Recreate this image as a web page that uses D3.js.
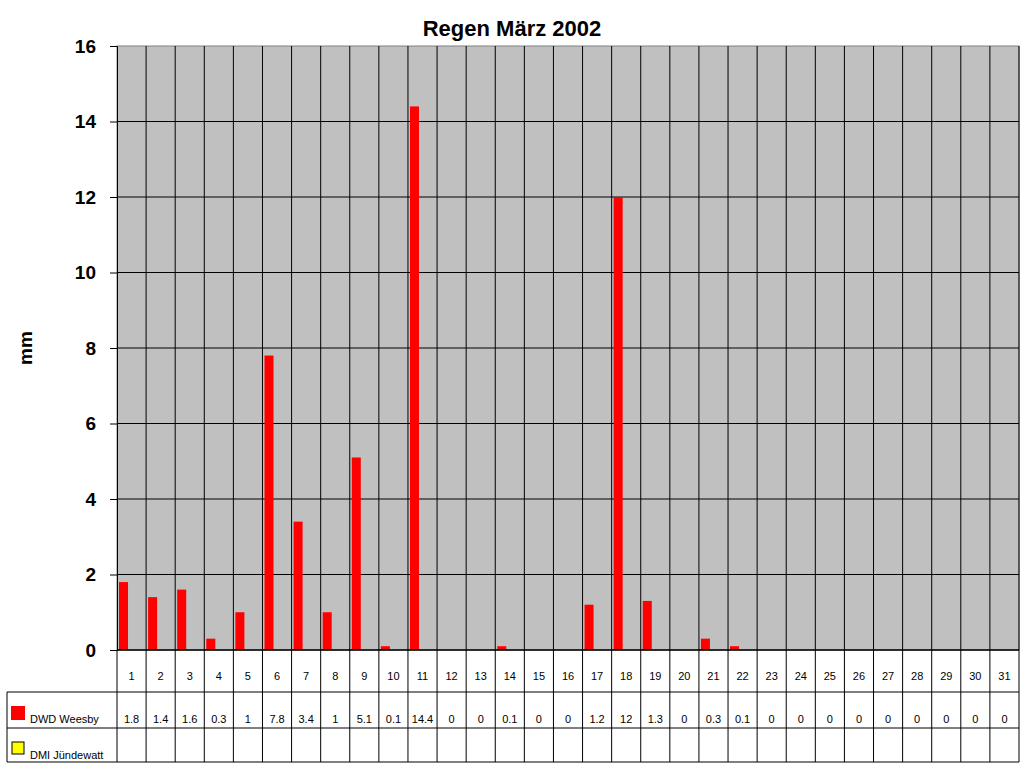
<!DOCTYPE html>
<html><head><meta charset="utf-8">
<script src="https://cdn.jsdelivr.net/npm/d3@7"></script>
<style>body{margin:0;background:#fff}text{font-family:"Liberation Sans",Arial,sans-serif}</style>
</head><body>
<svg id="c" width="1024" height="768"></svg>
<script>
const days = d3.range(1, 32).map(String);
const dwd = [1.8,1.4,1.6,0.3,1,7.8,3.4,1,5.1,0.1,14.4,0,0,0.1,0,0,1.2,12,1.3,0,0.3,0.1,0,0,0,0,0,0,0,0,0];
const dmi = [];
const yTicks = [0,2,4,6,8,10,12,14,16];

const svg = d3.select("#c");
const L = 117, R = 1019, T = 46, B = 650;
const x = d3.scaleBand().domain(days).range([L, R]);
const y = d3.scaleLinear().domain([0, 16]).range([B, T]);

svg.append("text").attr("x", 512).attr("y", 36).attr("text-anchor", "middle")
  .attr("font-size", 22).attr("font-weight", "bold").text("Regen März 2002");

svg.append("rect").attr("x", L).attr("y", T).attr("width", R - L).attr("height", B - T)
  .attr("fill", "#c0c0c0").attr("stroke", "#808080");

// gridlines
svg.append("g").selectAll("line").data(yTicks.slice(1, -1)).join("line")
  .attr("x1", L).attr("x2", R).attr("y1", d => y(d)).attr("y2", d => y(d))
  .attr("stroke", "#000");
svg.append("g").selectAll("line").data(days.slice(1)).join("line")
  .attr("x1", d => x(d)).attr("x2", d => x(d)).attr("y1", T).attr("y2", 762)
  .attr("stroke", "#000");

// bars
const bw = x.bandwidth() * 0.31;
svg.append("g").selectAll("rect").data(dwd).join("rect")
  .attr("x", (d, i) => x(days[i]) + 2).attr("width", bw)
  .attr("y", d => y(d)).attr("height", d => B - y(d)).attr("fill", "#ff0000");
svg.append("g").selectAll("rect").data(dmi).join("rect")
  .attr("x", (d, i) => x(days[i]) + 2 + bw).attr("width", bw)
  .attr("y", d => y(d)).attr("height", d => B - y(d)).attr("fill", "#ffff00");

// y axis
const ya = svg.append("g").attr("transform", `translate(${L},0)`)
  .call(d3.axisLeft(y).tickValues(yTicks).tickSize(7).tickPadding(14));
ya.select(".domain").attr("stroke", "#000");
ya.selectAll("text").attr("font-size", 19).attr("font-weight", "bold").attr("fill", "#000")
  .style("font-family", "'Liberation Sans',Arial,sans-serif");
svg.append("text").attr("transform", "translate(32,348) rotate(-90)").attr("text-anchor", "middle")
  .attr("font-size", 19).attr("font-weight", "bold").text("mm");

// table
const rows = [692, 728, 762];
svg.append("line").attr("x1", L).attr("x2", R).attr("y1", B).attr("y2", B).attr("stroke", "#000").attr("stroke-width", 1.5);
rows.forEach(r => svg.append("line").attr("x1", 7).attr("x2", R).attr("y1", r).attr("y2", r).attr("stroke", "#000"));
svg.append("line").attr("x1", 7).attr("x2", 7).attr("y1", 692).attr("y2", 762).attr("stroke", "#000");
svg.append("line").attr("x1", L).attr("x2", L).attr("y1", B).attr("y2", 762).attr("stroke", "#000");
svg.append("line").attr("x1", R).attr("x2", R).attr("y1", T).attr("y2", 762).attr("stroke", "#000");

const cx = d => x(d) + x.bandwidth() / 2;
svg.append("g").selectAll("text").data(days).join("text")
  .attr("x", cx).attr("y", 680).attr("text-anchor", "middle").attr("font-size", 11).text(d => d);
svg.append("g").selectAll("text").data(dwd).join("text")
  .attr("x", (d, i) => cx(days[i])).attr("y", 723).attr("text-anchor", "middle").attr("font-size", 11).text(d => d);

svg.append("rect").attr("x", 11).attr("y", 706).attr("width", 14).attr("height", 14).attr("fill", "#ff0000");
svg.append("text").attr("x", 30).attr("y", 723).attr("font-size", 11).text("DWD Weesby");
svg.append("rect").attr("x", 12).attr("y", 742).attr("width", 12).attr("height", 12).attr("fill", "#ffff00").attr("stroke", "#000");
svg.append("text").attr("x", 30).attr("y", 759).attr("font-size", 11).text("DMI Jündewatt");
</script>
</body></html>
